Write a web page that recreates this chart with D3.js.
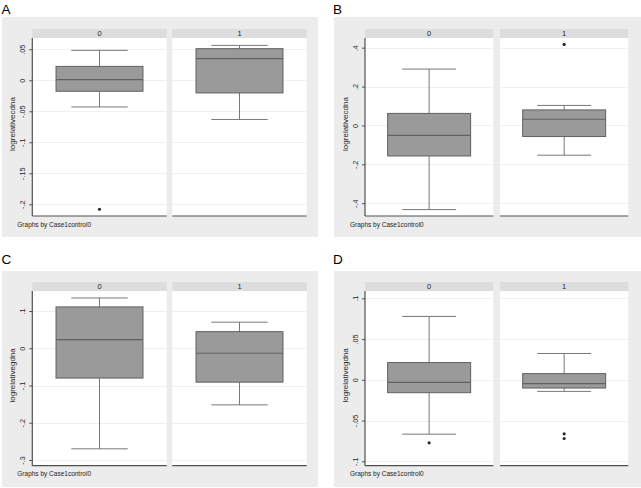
<!DOCTYPE html>
<html>
<head>
<meta charset="utf-8">
<script src="https://cdn.jsdelivr.net/npm/d3@7"></script>
<style>
  html, body { margin: 0; padding: 0; background: #ffffff; }
  svg { display: block; }
  text { font-family: "Liberation Sans", Arial, Helvetica, sans-serif; }
</style>
</head>
<body>
<svg id="chart" width="641" height="488"></svg>
<script>
// ---------------- DATA ----------------
const categories = ["0", "1"];
const panelNames = ["A", "B", "C", "D"];
const yTitles = ["logrelativecdna", "logrelativecdna", "logrelativegdna", "logrelativegdna"];
const footnote = "Graphs by Case1control0";

// tick values and labels per panel
const ticksA = [0.05, 0, -0.05, -0.1, -0.15, -0.2];
const tickLabelsA = [".05", "0", "-.05", "-.1", "-.15", "-.2"];
const ticksB = [0.4, 0.2, 0, -0.2, -0.4];
const tickLabelsB = [".4", ".2", "0", "-.2", "-.4"];
const ticksC = [0.1, 0, -0.1, -0.2, -0.3];
const tickLabelsC = [".1", "0", "-.1", "-.2", "-.3"];
const ticksD = [0.1, 0.05, 0, -0.05, -0.1];
const tickLabelsD = [".1", ".05", "0", "-.05", "-.1"];

// box statistics per panel, one entry per category ("0", "1")
const lowA = [-0.043, -0.0632];
const q1A = [-0.0177, -0.0204];
const medA = [0.0011, 0.0349];
const q3A = [0.0224, 0.051];
const highA = [0.0483, 0.0563];
const outA = [[-0.208], []];

const lowB = [-0.433, -0.153];
const q1B = [-0.157, -0.057];
const medB = [-0.0515, 0.032];
const q3B = [0.062, 0.080];
const highB = [0.29, 0.103];
const outB = [[], [0.417]];

const lowC = [-0.270, -0.152];
const q1C = [-0.080, -0.091];
const medC = [0.023, -0.0134];
const q3C = [0.111, 0.0446];
const highC = [0.135, 0.070];
const outC = [[], []];

const lowD = [-0.0667, -0.0142];
const q1D = [-0.0158, -0.0101];
const medD = [-0.0031, -0.0047];
const q3D = [0.0212, 0.0076];
const highD = [0.0778, 0.0323];
const outD = [[-0.0773], [-0.0663, -0.072]];

// y-axis extents (value range covered by each plot region)
const yDomainA = [-0.2189, 0.0682];
const yDomainB = [-0.4658, 0.4499];
const yDomainC = [-0.3153, 0.1537];
const yDomainD = [-0.1054, 0.109];

// ---------------- LAYOUT ----------------
const layout = [
  { bg: [2, 17, 316, 220],  letter: [1.5, 13.5],   xr: [32.3, 306.7], pad: 0.04, top: 38,  bottom: 216 },
  { bg: [334, 17, 307, 220], letter: [333, 13.5],  xr: [365, 628.3],  pad: 0.05, top: 38,  bottom: 216 },
  { bg: [2, 271, 316, 216],  letter: [1.5, 264],   xr: [32.3, 306.7], pad: 0.04, top: 291, bottom: 465.7 },
  { bg: [334, 271, 307, 216], letter: [333, 264],  xr: [365, 628.3],  pad: 0.05, top: 291, bottom: 465.7 }
];

const panels = [
  { ticks: ticksA, labels: tickLabelsA, dom: yDomainA, low: lowA, q1: q1A, med: medA, q3: q3A, high: highA, out: outA },
  { ticks: ticksB, labels: tickLabelsB, dom: yDomainB, low: lowB, q1: q1B, med: medB, q3: q3B, high: highB, out: outB },
  { ticks: ticksC, labels: tickLabelsC, dom: yDomainC, low: lowC, q1: q1C, med: medC, q3: q3C, high: highC, out: outC },
  { ticks: ticksD, labels: tickLabelsD, dom: yDomainD, low: lowD, q1: q1D, med: medD, q3: q3D, high: highD, out: outD }
];

const COL = {
  bg: "#ececec", strip: "#dddddd", plot: "#ffffff", grid: "#f0f0f0",
  axis: "#505050", boxFill: "#9a9a9a", boxStroke: "#606060", whisker: "#787878",
  text: "#1e1e1e", outlier: "#2a2a2a"
};

const svg = d3.select("#chart");

panels.forEach((p, i) => {
  const L = layout[i];
  const g = svg.append("g");

  // background region
  g.append("rect").attr("x", L.bg[0]).attr("y", L.bg[1])
    .attr("width", L.bg[2]).attr("height", L.bg[3]).attr("fill", COL.bg);

  // panel letter
  svg.append("text").attr("x", L.letter[0]).attr("y", L.letter[1])
    .attr("font-size", 13.5).attr("fill", "#000").text(panelNames[i]);

  const x = d3.scaleBand().domain(categories).range(L.xr).paddingInner(L.pad).paddingOuter(0);
  const y = d3.scaleLinear().domain(p.dom).range([L.bottom, L.top]);
  const stripH = 9;

  categories.forEach((c, j) => {
    const x0 = x(c), bw = x.bandwidth();
    // strip
    g.append("rect").attr("x", x0).attr("y", L.top - stripH).attr("width", bw)
      .attr("height", stripH).attr("fill", COL.strip);
    g.append("text").attr("x", x0 + bw / 2).attr("y", L.top - 2.2)
      .attr("text-anchor", "middle").attr("font-size", 7.5).attr("fill", COL.text).text(c);
    // plot region
    g.append("rect").attr("x", x0).attr("y", L.top).attr("width", bw)
      .attr("height", L.bottom - L.top).attr("fill", COL.plot);
    // grid lines
    g.selectAll(null).data(p.ticks).enter().append("line")
      .attr("x1", x0).attr("x2", x0 + bw)
      .attr("y1", d => Math.round(y(d)) + 0.5).attr("y2", d => Math.round(y(d)) + 0.5)
      .attr("stroke", COL.grid).attr("stroke-width", 1);

    // box plot
    const cx = x0 + bw / 2;
    const boxW = bw * 0.647;
    const capW = bw * 0.42;
    // whiskers
    g.append("line").attr("x1", cx).attr("x2", cx)
      .attr("y1", y(p.q3[j])).attr("y2", y(p.high[j]))
      .attr("stroke", COL.whisker).attr("stroke-width", 1);
    g.append("line").attr("x1", cx).attr("x2", cx)
      .attr("y1", y(p.q1[j])).attr("y2", y(p.low[j]))
      .attr("stroke", COL.whisker).attr("stroke-width", 1);
    g.append("line").attr("x1", cx - capW / 2).attr("x2", cx + capW / 2)
      .attr("y1", y(p.high[j])).attr("y2", y(p.high[j]))
      .attr("stroke", COL.whisker).attr("stroke-width", 1);
    g.append("line").attr("x1", cx - capW / 2).attr("x2", cx + capW / 2)
      .attr("y1", y(p.low[j])).attr("y2", y(p.low[j]))
      .attr("stroke", COL.whisker).attr("stroke-width", 1);
    // box
    g.append("rect").attr("x", cx - boxW / 2).attr("y", y(p.q3[j]))
      .attr("width", boxW).attr("height", y(p.q1[j]) - y(p.q3[j]))
      .attr("fill", COL.boxFill).attr("stroke", COL.boxStroke).attr("stroke-width", 1);
    g.append("line").attr("x1", cx - boxW / 2).attr("x2", cx + boxW / 2)
      .attr("y1", y(p.med[j])).attr("y2", y(p.med[j]))
      .attr("stroke", COL.boxStroke).attr("stroke-width", 1.2);
    // outliers
    g.selectAll(null).data(p.out[j]).enter().append("circle")
      .attr("cx", cx).attr("cy", d => y(d)).attr("r", 1.6).attr("fill", COL.outlier);

    // bottom axis line
    g.append("line").attr("x1", x0).attr("x2", x0 + bw)
      .attr("y1", L.bottom).attr("y2", L.bottom)
      .attr("stroke", COL.axis).attr("stroke-width", 1.2);
  });

  // y axis on the first facet
  const axisX = x(categories[0]);
  const axis = d3.axisLeft(y).tickValues(p.ticks).tickSize(3).tickPadding(2)
    .tickFormat((d, k) => p.labels[k]);
  const ag = g.append("g").attr("transform", `translate(${axisX},0)`).call(axis);
  ag.select(".domain").attr("stroke", COL.axis).attr("stroke-width", 1.2)
    .attr("d", `M0,${L.top}V${L.bottom}`);
  ag.selectAll(".tick line").attr("stroke", COL.axis);
  ag.selectAll(".tick text")
    .attr("font-size", 7.2).attr("fill", COL.text)
    .attr("font-family", "'Liberation Sans', Arial, sans-serif")
    .attr("text-anchor", "middle").attr("dy", null).attr("x", null)
    .attr("transform", "translate(-7,0) rotate(-90)");

  // y title
  g.append("text")
    .attr("transform", `translate(${axisX - 17},${(L.top + L.bottom) / 2 - 3}) rotate(-90)`)
    .attr("text-anchor", "middle").attr("font-size", 8).attr("fill", COL.text)
    .text(yTitles[i]);

  // footnote
  g.append("text").attr("x", axisX - 15).attr("y", L.bottom + 10.5)
    .attr("font-size", 6.5).attr("fill", COL.text).text(footnote);
});
</script>
</body>
</html>
